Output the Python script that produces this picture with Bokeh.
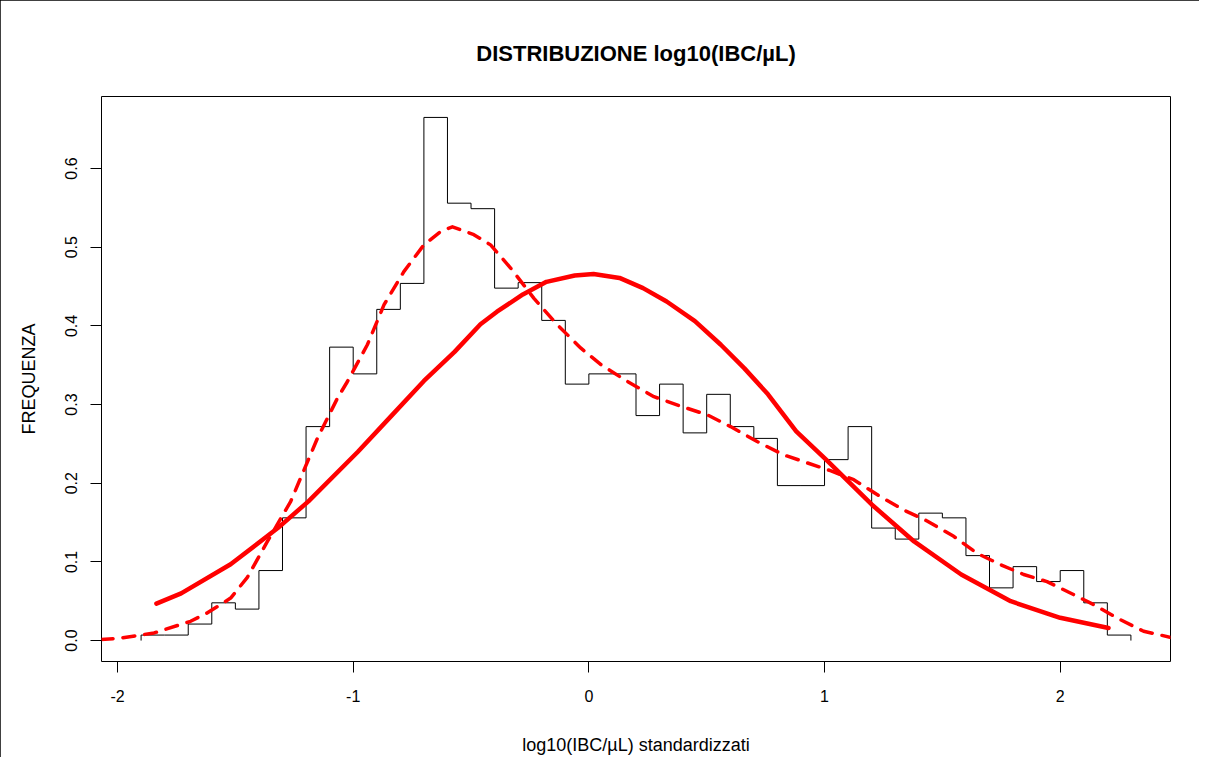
from bokeh.plotting import figure
from bokeh.models import Range1d, FixedTicker, PrintfTickFormatter
from bokeh.embed import file_html
from bokeh.resources import INLINE

# ---- data ----
bin_edges = [-1.9, -1.8, -1.7, -1.6, -1.5, -1.4, -1.3, -1.2, -1.1, -1.0,
             -0.9, -0.8, -0.7, -0.6, -0.5, -0.4, -0.3, -0.2, -0.1, 0.0,
             0.1, 0.2, 0.3, 0.4, 0.5, 0.6, 0.7, 0.8, 0.9, 1.0,
             1.1, 1.2, 1.3, 1.4, 1.5, 1.6, 1.7, 1.8, 1.9, 2.0,
             2.1, 2.2, 2.3]
bin_density = [0.007, 0.007, 0.021, 0.048, 0.040, 0.089, 0.156, 0.272, 0.373, 0.339,
               0.421, 0.454, 0.665, 0.556, 0.549, 0.448, 0.455, 0.407, 0.326, 0.339,
               0.339, 0.286, 0.326, 0.264, 0.313, 0.272, 0.257, 0.197, 0.197, 0.230,
               0.272, 0.143, 0.129, 0.162, 0.156, 0.108, 0.067, 0.094, 0.075, 0.089,
               0.048, 0.007]

normal_x = [-1.835, -1.73, -1.52, -1.32, -1.19, -0.98, -0.84, -0.70, -0.57, -0.46,
            -0.39, -0.28, -0.18, -0.06, 0.02, 0.13, 0.23, 0.33, 0.45, 0.56,
            0.66, 0.76, 0.88, 1.01, 1.20, 1.38, 1.58, 1.79, 2.00, 2.205]
normal_y = [0.047, 0.060, 0.097, 0.143, 0.177, 0.240, 0.285, 0.330, 0.367, 0.402,
            0.418, 0.440, 0.456, 0.464, 0.466, 0.461, 0.448, 0.431, 0.406, 0.376,
            0.346, 0.313, 0.266, 0.229, 0.173, 0.126, 0.084, 0.050, 0.029, 0.016]

kde_x = [-2.07, -1.99, -1.845, -1.69, -1.62, -1.52, -1.45, -1.364, -1.265, -1.152,
         -1.067, -1.025, -0.94, -0.869, -0.785, -0.70, -0.629, -0.579, -0.488, -0.417,
         -0.332, -0.233, -0.134, -0.035, 0.05, 0.163, 0.276, 0.389, 0.502, 0.601,
         0.714, 0.827, 0.926, 1.025, 1.124, 1.237, 1.336, 1.435, 1.548, 1.647,
         1.746, 1.845, 1.944, 2.043, 2.142, 2.241, 2.354, 2.47]
kde_y = [0.0013, 0.003, 0.0097, 0.0245, 0.035, 0.054, 0.080, 0.126, 0.177, 0.257,
         0.308, 0.329, 0.376, 0.427, 0.469, 0.503, 0.520, 0.526, 0.516, 0.503,
         0.4735, 0.435, 0.4015, 0.372, 0.351, 0.3295, 0.310, 0.298, 0.287, 0.272,
         0.253, 0.236, 0.226, 0.216, 0.2045, 0.183, 0.166, 0.152, 0.1325, 0.111,
         0.0966, 0.084, 0.075, 0.0605, 0.0457, 0.0287, 0.0118, 0.004]

x_ticks = [-2, -1, 0, 1, 2]
y_ticks = [0.0, 0.1, 0.2, 0.3, 0.4, 0.5, 0.6]

title_text = "DISTRIBUZIONE log10(IBC/\u00b5L)"
x_title = "log10(IBC/\u00b5L) standardizzati"
y_title = "FREQUENZA"

FONT = "Liberation Sans"

# ---- figure ----
p = figure(width=1199, height=757,
           x_range=Range1d(-2.068, 2.468), y_range=Range1d(-0.0266, 0.6916),
           output_backend="svg", toolbar_location=None,
           min_border_left=101, min_border_right=29,
           min_border_top=96, min_border_bottom=96,
           title=title_text)

# outer frame of the exported picture
p.styles = {"outline": "3px solid black", "outline-offset": "-3px"}

p.background_fill_color = "white"
p.border_fill_color = "white"
p.outline_line_color = "black"
p.outline_line_width = 1
p.outline_line_alpha = 1.0
p.xgrid.visible = False
p.ygrid.visible = False

p.title.align = "center"
p.title.text_font = FONT
p.title.text_font_size = "22px"
p.title.text_font_style = "bold"
p.title.text_color = "black"
p.title.standoff = 62

for ax in (p.xaxis[0], p.yaxis[0]):
    ax.axis_line_color = None
    ax.major_tick_out = 11
    ax.major_tick_in = 0
    ax.minor_tick_out = 0
    ax.minor_tick_in = 0
    ax.major_tick_line_color = "black"
    ax.major_label_text_font = FONT
    ax.major_label_text_font_size = "16px"
    ax.major_label_text_color = "black"
    ax.axis_label_text_font = FONT
    ax.axis_label_text_font_size = "18px"
    ax.axis_label_text_font_style = "normal"
    ax.axis_label_text_color = "black"

p.xaxis.ticker = FixedTicker(ticks=x_ticks, minor_ticks=[])
p.xaxis.major_label_overrides = {t: str(t) for t in x_ticks}
p.xaxis.major_label_standoff = 17
p.xaxis.axis_label = x_title
p.xaxis.axis_label_standoff = 30

p.yaxis.ticker = FixedTicker(ticks=y_ticks, minor_ticks=[])
p.yaxis.formatter = PrintfTickFormatter(format="%.1f")
p.yaxis.major_label_orientation = "vertical"
p.yaxis.major_label_standoff = 13
p.yaxis.axis_label = y_title
p.yaxis.axis_label_standoff = 24

# ---- histogram as a step outline ----
hx = [bin_edges[0]]
hy = [0.0]
for i, h in enumerate(bin_density):
    hx += [bin_edges[i], bin_edges[i + 1]]
    hy += [h, h]
hx.append(bin_edges[-1])
hy.append(0.0)
p.line(hx, hy, line_color="black", line_width=1)

# ---- normal curve (solid) ----
p.line(normal_x, normal_y, line_color="#ff0000", line_width=4.5, line_join="round", line_cap="round")

# ---- kernel density (dashed) ----
p.line(kde_x, kde_y, line_color="#ff0000", line_width=3.5, line_dash="12 10",
       line_join="round", line_cap="round")

open("out.html", "w").write(file_html(p, INLINE))
